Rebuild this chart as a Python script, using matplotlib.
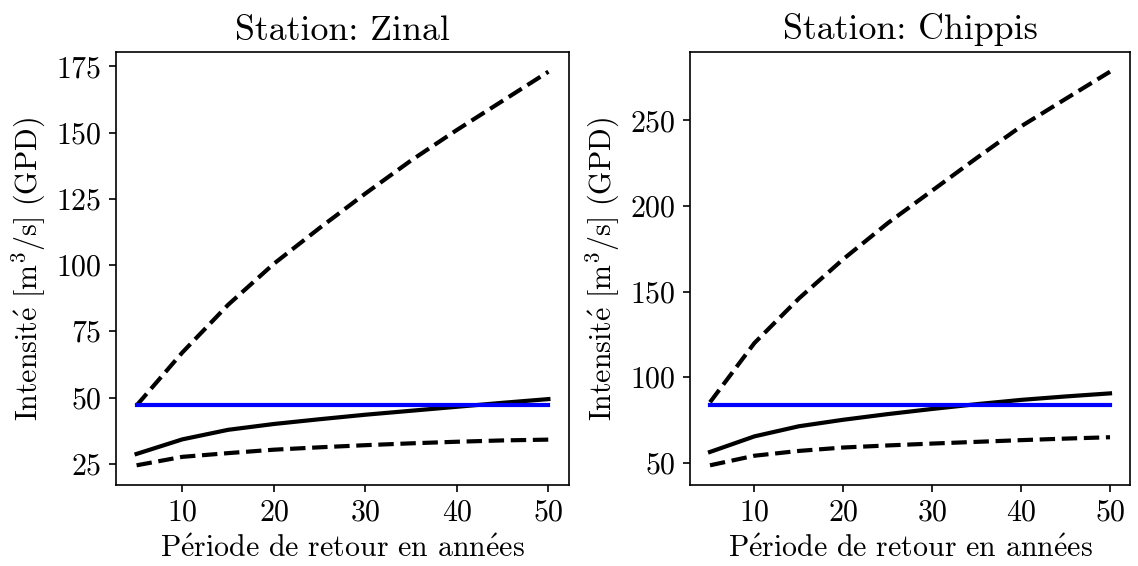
import matplotlib
matplotlib.use("Agg")
import matplotlib.pyplot as plt

# ---- data ----
periods = [5, 10, 15, 20, 25, 30, 35, 40, 45, 50]

zinal_estimate = [28.7, 34.2, 37.8, 40.0, 41.8, 43.5, 45.0, 46.5, 48.0, 49.4]
zinal_upper = [47.0, 67.0, 85.0, 100.5, 114.0, 127.0, 139.5, 151.0, 162.0, 173.0]
zinal_lower = [24.4, 27.6, 29.0, 30.3, 31.2, 32.0, 32.7, 33.3, 33.8, 34.1]
zinal_threshold = 47.0

chippis_estimate = [56.4, 65.5, 71.4, 75.2, 78.5, 81.5, 84.3, 86.8, 88.8, 90.6]
chippis_upper = [85.4, 120.0, 146.0, 169.0, 190.0, 209.0, 228.0, 246.5, 262.5, 278.4]
chippis_lower = [48.6, 54.2, 57.0, 59.0, 60.2, 61.3, 62.3, 63.3, 64.2, 65.0]
chippis_threshold = 84.1

stations = ["Zinal", "Chippis"]
xticks = [10, 20, 30, 40, 50]
zinal_yticks = [25, 50, 75, 100, 125, 150, 175]
chippis_yticks = [50, 100, 150, 200, 250]

xlabel_text = r"P$\mathrm{\acute{e}}$riode de retour en ann$\mathrm{\acute{e}}$es"
ylabel_text = r"Intensit$\mathrm{\acute{e}}$ [m$^3$/s] (GPD)"

plt.rcParams['font.family'] = ['cmr10', 'DejaVu Serif']
plt.rcParams['mathtext.fontset'] = 'cm'
plt.rcParams['axes.formatter.use_mathtext'] = True
plt.rcParams['font.size'] = 21.5
plt.rcParams['axes.linewidth'] = 1.2
plt.rcParams['xtick.major.size'] = 5.25
plt.rcParams['ytick.major.size'] = 5.25
plt.rcParams['xtick.major.width'] = 1.2
plt.rcParams['ytick.major.width'] = 1.2
plt.rcParams['xtick.major.pad'] = 5
plt.rcParams['ytick.major.pad'] = 5

fig = plt.figure(figsize=(11.38, 5.66), dpi=100)
ax1 = fig.add_axes([116 / 1138, 81 / 566, 453 / 1138, 433 / 566])
ax2 = fig.add_axes([690 / 1138, 81 / 566, 440 / 1138, 433 / 566])

datasets = [
    (ax1, zinal_estimate, zinal_upper, zinal_lower, zinal_threshold, zinal_yticks),
    (ax2, chippis_estimate, chippis_upper, chippis_lower, chippis_threshold, chippis_yticks),
]

for (ax, est, up, lo, thr, yt), name in zip(datasets, stations):
    ax.plot(periods, up, color='black', linestyle='--', linewidth=3)
    ax.plot(periods, lo, color='black', linestyle='--', linewidth=3)
    ax.plot(periods, est, color='black', linestyle='-', linewidth=3)
    ax.plot([periods[0], periods[-1]], [thr, thr], color='blue', linewidth=3)
    ax.set_xticks(xticks)
    ax.set_yticks(yt)
    ax.set_title("Station: " + name, pad=9)
    ax.set_xlabel(xlabel_text, labelpad=6)
    ax.set_ylabel(ylabel_text, labelpad=6)

fig.savefig("out.png", dpi=100)
